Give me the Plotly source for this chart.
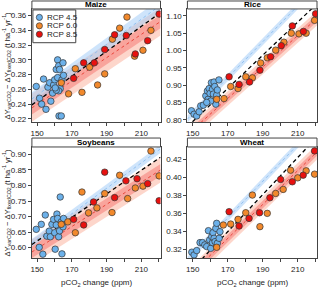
import plotly.graph_objects as go

# ---------------- data ----------------
FIT_X = [147, 221]

maize_b_x = [149.5,151.4,152.6,153.7,155.1,156.2,157.2,157.9,158.9,159.5,160.1,161.0,161.8,161.8,162.4,162.9,163.3,162.6,163.9,164.3,164.9,165.2,162.4,161.0,160.4]
maize_b_y = [0.264,0.248,0.240,0.274,0.233,0.263,0.269,0.244,0.255,0.266,0.273,0.287,0.300,0.276,0.292,0.287,0.261,0.224,0.224,0.273,0.296,0.279,0.258,0.259,0.262]
maize_o_x = [163.9,168.1,172.0,175.8,180.2,184.8,188.9,193.3,197.5,201.7,206.1,210.9,215.5]
maize_o_y = [0.269,0.254,0.288,0.256,0.290,0.266,0.281,0.328,0.343,0.358,0.305,0.313,0.340]
maize_r_x = [171.0,176.8,182.9,188.9,194.6,201.3,206.5,213.6,220.2]
maize_r_y = [0.275,0.296,0.296,0.314,0.334,0.333,0.308,0.326,0.362]

rice_b_x = [149.3,150.8,152.3,153.7,154.6,156.1,157.5,158.4,158.8,159.4,159.9,160.7,161.3,161.8,162.2,162.6,163.2,163.7,164.1,165.0,163.2,160.3,158.0]
rice_b_y = [0.826,0.816,0.811,0.823,0.840,0.842,0.869,0.883,0.859,0.890,0.876,0.907,0.888,0.874,0.909,0.896,0.859,0.871,0.886,0.915,0.845,0.854,0.850]
rice_o_x = [163.7,167.9,171.7,175.9,180.3,184.1,188.8,192.6,197.4,202.1,206.3,210.7,214.8,219.6]
rice_o_y = [0.859,0.861,0.896,0.890,0.924,0.921,0.964,0.979,1.001,1.024,1.050,1.048,1.050,1.087]
rice_r_x = [170.8,176.5,182.5,188.4,194.5,200.6,206.9,213.2,220.2]
rice_r_y = [0.924,0.902,0.909,0.943,0.982,1.014,1.071,1.055,1.106]

soy_b_x = [149.5,151.2,152.4,153.3,154.7,155.6,157.0,157.6,158.5,159.5,160.1,160.4,161.0,161.4,161.8,162.4,162.9,163.3,163.9,164.3,164.9,165.2]
soy_b_y = [0.659,0.601,0.675,0.579,0.705,0.637,0.653,0.635,0.675,0.691,0.648,0.595,0.673,0.708,0.694,0.635,0.654,0.763,0.683,0.580,0.667,0.694]
soy_o_x = [163.9,167.7,172.0,175.8,179.6,184.4,188.9,193.1,197.5,202.1,206.5,210.9,215.5,220.2]
soy_o_y = [0.675,0.683,0.648,0.779,0.712,0.728,0.774,0.713,0.833,0.758,0.792,0.798,0.911,0.831]
soy_r_x = [171.0,176.8,182.5,188.9,194.6,201.1,207.5,213.6,220.2]
soy_r_y = [0.691,0.673,0.747,0.843,0.761,0.815,0.822,0.806,0.751]

wheat_b_x = [149.5,150.8,152.3,154.2,155.6,156.9,158.0,159.0,159.7,160.3,160.9,161.3,161.6,162.2,162.8,163.2,163.7,164.1,165.1,165.6]
wheat_b_y = [0.3167,0.3137,0.3185,0.3274,0.3274,0.3248,0.3230,0.3407,0.3304,0.3210,0.3340,0.3274,0.3385,0.3322,0.3285,0.3433,0.3489,0.3267,0.3322,0.3396]
wheat_o_x = [163.7,167.5,171.7,175.9,180.3,184.1,188.4,192.6,197.4,201.7,205.9,210.0,214.8,219.6]
wheat_o_y = [0.3222,0.3470,0.3481,0.3533,0.3607,0.3804,0.3452,0.3600,0.3822,0.3867,0.4081,0.3996,0.4074,0.4037]
wheat_r_x = [170.8,176.5,182.2,188.2,194.1,200.2,206.9,213.1,219.6]
wheat_r_y = [0.3619,0.3459,0.3544,0.3607,0.3774,0.3978,0.3952,0.4026,0.4296]

# fitted lines: value at FIT_X[0], value at FIT_X[1]; band half-widths
maize_fit_blue = [0.247, 0.374]; maize_hw_blue = 0.009
maize_fit_red = [0.235, 0.352]; maize_hw_red = [0.009, 0.019]
maize_fit_all = [0.239, 0.364]

rice_fit_blue = [0.802, 1.186]; rice_hw_blue = 0.010
rice_fit_red = [0.757, 1.093]; rice_hw_red = [0.010, 0.021]
rice_fit_all = [0.780, 1.135]

soy_fit_blue = [0.615, 0.918]; soy_hw_blue = 0.013
soy_fit_red = [0.586, 0.850]; soy_hw_red = [0.019, 0.040]
soy_fit_all = [0.610, 0.891]

wheat_fit_blue = [0.3078, 0.459]; wheat_hw_blue = 0.0038
wheat_fit_red = [0.2885, 0.4285]; wheat_hw_red = [0.0042, 0.0085]
wheat_fit_all = [0.292, 0.445]

crops = ["Maize", "Rice", "Soybeans", "Wheat"]
y_ranges = [[0.2156, 0.369], [0.793, 1.12], [0.566, 0.924], [0.310, 0.434]]
y_ticks = [[0.22, 0.24, 0.26, 0.28, 0.30, 0.32, 0.34, 0.36],
           [0.80, 0.85, 0.90, 0.95, 1.00, 1.05, 1.10],
           [0.60, 0.65, 0.70, 0.75, 0.80, 0.85, 0.90],
           [0.32, 0.34, 0.36, 0.38, 0.40, 0.42]]
x_ticks = [150, 160, 170, 180, 190, 200, 210, 220]
x_ticklabels = ["150", "", "170", "", "190", "", "210", ""]
scen_names = ["RCP 4.5", "RCP 6.0", "RCP 8.5"]

pts = [
    [(maize_b_x, maize_b_y), (maize_o_x, maize_o_y), (maize_r_x, maize_r_y)],
    [(rice_b_x, rice_b_y), (rice_o_x, rice_o_y), (rice_r_x, rice_r_y)],
    [(soy_b_x, soy_b_y), (soy_o_x, soy_o_y), (soy_r_x, soy_r_y)],
    [(wheat_b_x, wheat_b_y), (wheat_o_x, wheat_o_y), (wheat_r_x, wheat_r_y)],
]
fits = [
    (maize_fit_blue, maize_hw_blue, maize_fit_red, maize_hw_red, maize_fit_all),
    (rice_fit_blue, rice_hw_blue, rice_fit_red, rice_hw_red, rice_fit_all),
    (soy_fit_blue, soy_hw_blue, soy_fit_red, soy_hw_red, soy_fit_all),
    (wheat_fit_blue, wheat_hw_blue, wheat_fit_red, wheat_hw_red, wheat_fit_all),
]

# ---------------- styling ----------------
W, H = 320, 291
COL = ["#6cb1ea", "#f2892c", "#e8110f"]
FRAME = "#444444"
FONT = "Liberation Sans, Arial, sans-serif"

x_dom = [[31 / W, 160 / W], [187 / W, 317 / W]]
y_dom = [[1 - 123 / H, 1 - 9 / H], [1 - 260 / H, 1 - 148 / H]]
strip_y = [[1 - 9 / H, 1 - 1 / H], [1 - 148 / H, 1 - 139 / H]]

fig = go.Figure()
shapes = []
annotations = []


def band(fit, hw):
    lo = [fit[0] - hw, fit[1] - hw]
    hi = [fit[0] + hw, fit[1] + hw]
    return [FIT_X[0], FIT_X[1], FIT_X[1], FIT_X[0], FIT_X[0]], [lo[0], lo[1], hi[1], hi[0], lo[0]]


for i, crop in enumerate(crops):
    row, col = divmod(i, 2)
    ax = "" if i == 0 else str(i + 1)
    xa, ya = "x" + ax, "y" + ax
    fb, hb, fr, hr, fa = fits[i]

    bx, by = band(fr, hr[1])
    fig.add_trace(go.Scatter(x=bx, y=by, fill="toself", fillcolor="rgba(250,165,140,0.45)",
                             line=dict(width=0), mode="lines", xaxis=xa, yaxis=ya,
                             showlegend=False, hoverinfo="skip"))
    bx, by = band(fr, hr[0])
    fig.add_trace(go.Scatter(x=bx, y=by, fill="toself", fillcolor="rgba(242,95,90,0.42)",
                             line=dict(width=0), mode="lines", xaxis=xa, yaxis=ya,
                             showlegend=False, hoverinfo="skip"))
    bx, by = band(fb, hb)
    fig.add_trace(go.Scatter(x=bx, y=by, fill="toself", fillcolor="rgba(165,205,248,0.55)",
                             line=dict(width=0), mode="lines", xaxis=xa, yaxis=ya,
                             showlegend=False, hoverinfo="skip"))
    fig.add_trace(go.Scatter(x=FIT_X, y=fb, mode="lines",
                             line=dict(color="rgba(140,190,240,0.9)", width=1, dash="dot"),
                             xaxis=xa, yaxis=ya, showlegend=False, hoverinfo="skip"))
    fig.add_trace(go.Scatter(x=FIT_X, y=fr, mode="lines",
                             line=dict(color="rgba(230,60,50,0.9)", width=1, dash="dot"),
                             xaxis=xa, yaxis=ya, showlegend=False, hoverinfo="skip"))
    fig.add_trace(go.Scatter(x=FIT_X, y=fa, mode="lines",
                             line=dict(color="black", width=1.3, dash="4px,3px"),
                             xaxis=xa, yaxis=ya, showlegend=False, hoverinfo="skip"))
    for s in range(3):
        px_, py_ = pts[i][s]
        fig.add_trace(go.Scatter(x=px_, y=py_, mode="markers", name=scen_names[s],
                                 marker=dict(size=6.5, color=COL[s], line=dict(color="#333333", width=0.7)),
                                 xaxis=xa, yaxis=ya, showlegend=False))

    axis_common = dict(showline=True, mirror=True, linecolor=FRAME, linewidth=1,
                       ticks="outside", ticklen=3, tickcolor=FRAME, showgrid=False,
                       zeroline=False, tickfont=dict(size=8, family=FONT, color="#222"))
    fig.layout["xaxis" + ax] = dict(domain=x_dom[col], range=[FIT_X[0], FIT_X[1]], anchor=ya,
                                    tickvals=x_ticks, ticktext=x_ticklabels, **axis_common)
    fig.layout["yaxis" + ax] = dict(domain=y_dom[row], range=y_ranges[i], anchor=xa,
                                    tickvals=y_ticks[i], tickformat=".2f", **axis_common)

    # strip
    shapes.append(dict(type="rect", xref="paper", yref="paper",
                       x0=x_dom[col][0], x1=x_dom[col][1], y0=strip_y[row][0], y1=strip_y[row][1],
                       line=dict(color=FRAME, width=1), fillcolor="white", layer="above"))
    annotations.append(dict(text="<b>" + crop + "</b>", xref="paper", yref="paper",
                            x=(x_dom[col][0] + x_dom[col][1]) / 2,
                            y=(strip_y[row][0] + strip_y[row][1]) / 2,
                            showarrow=False, font=dict(size=8, family=FONT, color="black"),
                            xanchor="center", yanchor="middle"))
    if col == 0:
        annotations.append(dict(
            text="ΔY<sub>varCO2</sub> − ΔY<sub>fixedCO2</sub> (t ha<sup>-1</sup> yr<sup>-1</sup>)",
            xref="paper", yref="paper", x=6 / W, y=(y_dom[row][0] + y_dom[row][1]) / 2,
            textangle=-90, showarrow=False, font=dict(size=7.6, family=FONT, color="#222"),
            xanchor="center", yanchor="middle"))
    if row == 1:
        annotations.append(dict(text="pCO<sub>2</sub> change (ppm)", xref="paper", yref="paper",
                                x=(x_dom[col][0] + x_dom[col][1]) / 2, y=1 - 285 / H,
                                showarrow=False, font=dict(size=8, family=FONT, color="#222"),
                                xanchor="center", yanchor="middle"))

# legend box (manual)
lx0, lx1, ly0, ly1 = 32 / W, 75 / W, 1 - 43 / H, 1 - 10 / H
shapes.append(dict(type="rect", xref="paper", yref="paper", x0=lx0, x1=lx1, y0=ly0, y1=ly1,
                   line=dict(color=FRAME, width=1), fillcolor="white", layer="above"))
for s in range(3):
    cy = 1 - (17.5 + 8.5 * s) / H
    r = 3.1
    cx = 38.5
    shapes.append(dict(type="circle", xref="paper", yref="paper",
                       x0=(cx - r) / W, x1=(cx + r) / W, y0=cy - r / H, y1=cy + r / H,
                       fillcolor=COL[s], line=dict(color="#333333", width=0.7), layer="above"))
    annotations.append(dict(text=scen_names[s], xref="paper", yref="paper", x=44 / W, y=cy,
                            showarrow=False, xanchor="left", yanchor="middle",
                            font=dict(size=8, family=FONT, color="#222")))

fig.update_layout(width=W, height=H, margin=dict(l=0, r=0, t=0, b=0),
                  paper_bgcolor="white", plot_bgcolor="white", showlegend=False,
                  shapes=shapes, annotations=annotations)

fig.write_html("out.html", config={"displayModeBar": False},
               post_script="document.body.style.margin='0';document.body.style.overflow='hidden';")
